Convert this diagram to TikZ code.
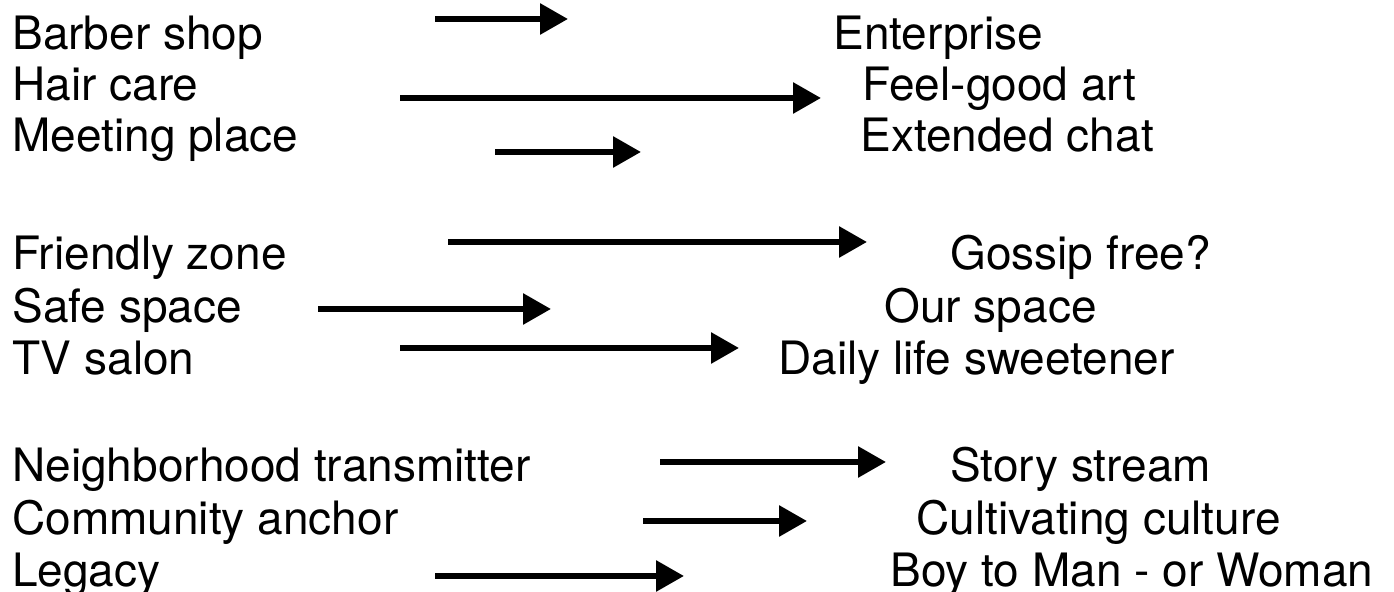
\documentclass[tikz,border=0pt]{standalone}
\usepackage{fontspec}
\setmainfont{TeX Gyre Heros}
\usetikzlibrary{arrows.meta}
\tikzset{
  lbl/.style={anchor=base west,inner sep=0pt,font=\fontsize{23}{27}\selectfont},
  arr/.style={line width=3pt,-{Triangle[length=14pt,width=15pt]}}
}
\begin{document}
\begin{tikzpicture}[x=0.5pt,y=-0.5pt]
\useasboundingbox (0,0) rectangle (1394,592);
% left column
\node[lbl] (l1) at (12,50) {Barber shop};
\node[lbl] (l2) at (12,101) {Hair care};
\node[lbl] (l3) at (12,152) {Meeting place};
\node[lbl] (l4) at (12,270) {Friendly zone};
\node[lbl] (l5) at (12,323) {Safe space};
\node[lbl] (l6) at (12,375) {TV salon};
\node[lbl] (l7) at (12,482) {Neighborhood transmitter};
\node[lbl] (l8) at (12,535) {Community anchor};
\node[lbl] (l9) at (12,587) {Legacy};
% right column
\node[lbl] (r1) at (833,50) {Enterprise};
\node[lbl] (r2) at (862,101) {Feel-good art};
\node[lbl] (r3) at (860,152) {Extended chat};
\node[lbl] (r4) at (950,270) {Gossip free?};
\node[lbl] (r5) at (884,323) {Our space};
\node[lbl] (r6) at (778,375) {Daily life sweetener};
\node[lbl] (r7) at (950,482) {Story stream};
\node[lbl] (r8) at (916,535) {Cultivating culture};
\node[lbl] (r9) at (890,587) {Boy to Man - or Woman};
% arrows
\coordinate (a1s) at (435,19);  \coordinate (a1e) at (568,19);
\coordinate (a2s) at (400,98);  \coordinate (a2e) at (821,98);
\coordinate (a3s) at (495,152); \coordinate (a3e) at (641,152);
\coordinate (a4s) at (448,242); \coordinate (a4e) at (867,242);
\coordinate (a5s) at (318,309); \coordinate (a5e) at (551,309);
\coordinate (a6s) at (400,348); \coordinate (a6e) at (739,348);
\coordinate (a7s) at (660,462); \coordinate (a7e) at (886,462);
\coordinate (a8s) at (643,521); \coordinate (a8e) at (807,521);
\coordinate (a9s) at (435,576); \coordinate (a9e) at (684,576);
\foreach \i in {1,...,9} \draw[arr] (a\i s) -- (a\i e);
\end{tikzpicture}
\end{document}
